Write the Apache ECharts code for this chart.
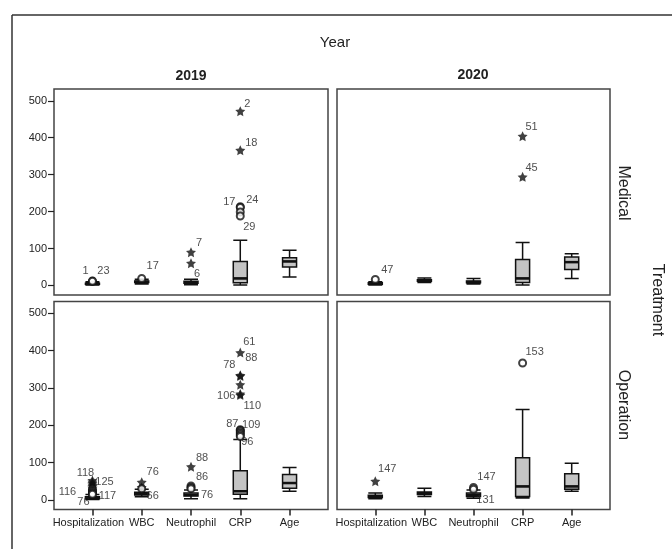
<!DOCTYPE html>
<html>
<head>
<meta charset="utf-8">
<script src="https://cdn.jsdelivr.net/npm/echarts@6/dist/echarts.min.js"></script>
<style>html,body{margin:0;padding:0;background:#fff}#chart{width:672px;height:549px}</style>
</head>
<body>
<div id="chart"></div>
<script>
// ---------- data ----------
const categories = ['Hospitalization', 'WBC', 'Neutrophil', 'CRP', 'Age'];
const yTicks = [0, 100, 200, 300, 400, 500];
const years = ['2019', '2020'];
const treatments = ['Medical', 'Operation'];
const facetTitle = 'Year';
const rowTitle = 'Treatment';

// [min, Q1, median, Q3, max] per category
const boxMedical2019 = [[1, 3, 4, 6, 10], [4, 8, 10, 12, 17], [2, 6, 8, 11, 17], [1, 7, 19, 65, 122], [23, 50, 65, 75, 95]];
const boxMedical2020 = [[1, 3, 5, 7, 10], [8, 11, 13, 15, 20], [4, 7, 9, 12, 19], [1, 8, 19, 70, 116], [19, 43, 63, 77, 86]];
const boxOperation2019 = [[1, 3, 5, 8, 14], [8, 13, 16, 20, 28], [3, 10, 13, 18, 26], [3, 15, 23, 78, 162], [23, 31, 45, 68, 87]];
const boxOperation2020 = [[3, 6, 8, 12, 18], [9, 14, 17, 21, 31], [4, 9, 13, 18, 26], [5, 9, 36, 113, 242], [23, 28, 36, 70, 98]];

// outliers: [category index, value, kind ('o' = outlier, '*' = extreme), case id]
const outMedical2019 = [
  [0, 12, 'o', '1'], [0, 11, 'o', '23'], [1, 19, 'o', '17'],
  [2, 90, '*', '7'], [2, 60, '*', '6'],
  [3, 472, '*', '2'], [3, 366, '*', '18'],
  [3, 213, 'o', '17'], [3, 211, 'o', '24'], [3, 199, 'o', ''], [3, 188, 'o', '29']
];
const outMedical2020 = [
  [0, 16, 'o', '47'],
  [3, 404, '*', '51'], [3, 294, '*', '45']
];
const outOperation2019 = [
  [0, 52, '*', '118'], [0, 48, '*', '125'], [0, 44, '*', ''], [0, 40, '*', ''], [0, 36, '*', ''], [0, 32, '*', ''],
  [0, 28, 'o', ''], [0, 25, 'o', ''], [0, 22, 'o', '116'], [0, 19, 'o', ''], [0, 16, 'o', '76'], [0, 15, 'o', '117'],
  [1, 47, '*', '76'], [1, 33, '*', ''], [1, 30, 'o', '66'],
  [2, 89, '*', '88'], [2, 37, 'o', '86'], [2, 33, 'o', ''], [2, 30, 'o', '76'],
  [3, 395, '*', '61'], [3, 334, '*', '78'], [3, 332, '*', '88'], [3, 309, '*', ''], [3, 284, '*', '106'], [3, 281, '*', '110'],
  [3, 188, 'o', '87'], [3, 186, 'o', '109'], [3, 182, 'o', ''], [3, 178, 'o', ''], [3, 174, 'o', ''], [3, 170, 'o', '96']
];
const outOperation2020 = [
  [0, 50, '*', '147'],
  [2, 33, 'o', '147'], [2, 28, 'o', '131'],
  [3, 367, 'o', '153']
];

// ---------- label placement (style, parallel to the outlier lists) ----------
const offMedical2019 = [[-7, -10], [11, -10], [11, -12], [8, -9], [6, 11], [7, -7], [11, -7], [-11, -5], [12, -8], [0, 0], [9, 11]];
const offMedical2020 = [[12, -10], [9, -9], [9, -9]];
const offOperation2019 = [
  [-7, -7], [12, 0], [0, 0], [0, 0], [0, 0], [0, 0],
  [0, 0], [0, 0], [-25, 0], [0, 0], [-9, 8], [15, 2],
  [11, -10], [0, 0], [11, 7],
  [11, -9], [11, -9], [0, 0], [16, 6],
  [9, -11], [-11, -10], [11, -18], [0, 0], [-14, 2], [12, 11],
  [-8, -6], [11, -6], [0, 0], [0, 0], [0, 0], [7, 6]
];
const offOperation2020 = [[12, -12], [13, -11], [12, 11], [12, -11]];

// ---------- layout ----------
const FONT = "'Liberation Sans', Arial, sans-serif";
const TXT = '#222';
const panels = [
  { box: boxMedical2019, out: outMedical2019, off: offMedical2019, grid: { left: 54, top: 89, width: 274, height: 206 }, yLab: true, xLab: false },
  { box: boxMedical2020, out: outMedical2020, off: offMedical2020, grid: { left: 337, top: 89, width: 273, height: 206 }, yLab: false, xLab: false },
  { box: boxOperation2019, out: outOperation2019, off: offOperation2019, grid: { left: 54, top: 301.5, width: 274, height: 208 }, yLab: true, xLab: true },
  { box: boxOperation2020, out: outOperation2020, off: offOperation2020, grid: { left: 337, top: 301.5, width: 273, height: 208 }, yLab: false, xLab: true }
];
const catIdx = categories.map((c, i) => i);
const STAR = 'path://M0,-10 L2.9,-4 L9.51,-3.09 L4.7,1.5 L5.88,8.09 L0,5 L-5.88,8.09 L-4.7,1.5 L-9.51,-3.09 L-2.9,-4 Z';

const grids = [], xAxes = [], yAxes = [], series = [];
panels.forEach((p, gi) => {
  grids.push(Object.assign({ show: true, borderColor: '#444', borderWidth: 1.5, backgroundColor: 'transparent' }, p.grid));
  xAxes.push({
    type: 'value', gridIndex: gi, min: -0.78, max: 4.78,
    splitLine: { show: false }, axisLine: { show: false, onZero: false },
    axisTick: { show: p.xLab, customValues: catIdx, length: 6, lineStyle: { color: '#222', width: 1.5 } },
    axisLabel: {
      show: p.xLab, customValues: catIdx, margin: 8, fontSize: 11, color: TXT, fontFamily: FONT,
      formatter: v => { const i = Math.round(v); return i === 0 ? '{h|' + categories[i] + '}' : categories[i]; },
      rich: { h: { fontSize: 11, color: TXT, fontFamily: FONT, padding: [0, 8, 0, 0] } }
    }
  });
  yAxes.push({
    type: 'value', gridIndex: gi, min: -26, max: 532,
    splitLine: { show: false }, axisLine: { show: false, onZero: false },
    axisTick: { show: p.yLab, customValues: yTicks, length: 6, lineStyle: { color: '#222', width: 1.2 } },
    axisLabel: { show: p.yLab, customValues: yTicks, margin: 7, fontSize: 11, color: TXT, fontFamily: FONT }
  });
  series.push({
    type: 'boxplot', xAxisIndex: gi, yAxisIndex: gi, layout: 'horizontal',
    boxWidth: [14, 14],
    itemStyle: { color: '#c4c4c4', borderColor: '#111', borderWidth: 1.5 },
    emphasis: { disabled: true },
    data: p.box.map((b, i) => [i].concat(b))
  });
  series.push({
    type: 'custom', xAxisIndex: gi, yAxisIndex: gi, silent: true, z: 5,
    data: p.box.map((b, i) => [i, b[2]]),
    renderItem: (params, api) => {
      const c = api.coord([api.value(0), api.value(1)]);
      return { type: 'line', shape: { x1: c[0] - 7, y1: c[1], x2: c[0] + 7, y2: c[1] }, style: { stroke: '#111', lineWidth: 2.5 } };
    }
  });
  series.push({
    type: 'scatter', xAxisIndex: gi, yAxisIndex: gi, z: 6, silent: true,
    data: p.out.map((o, k) => ({
      value: [o[0], o[1]],
      symbol: o[2] === '*' ? STAR : 'emptyCircle',
      symbolSize: o[2] === '*' ? 10 : 7,
      itemStyle: o[2] === '*' ? { color: '#111', borderWidth: 0 } : { color: '#111', borderColor: '#111', borderWidth: 1.3 },
      label: {
        show: o[3] !== '', formatter: o[3], position: 'inside', offset: p.off[k],
        fontSize: 11, color: TXT, fontFamily: FONT
      }
    }))
  });
});

const chart = echarts.init(document.getElementById('chart'), null, { renderer: 'canvas' });
chart.setOption({
  animation: false,
  backgroundColor: '#fff',
  grid: grids, xAxis: xAxes, yAxis: yAxes, series: series,
  graphic: [
    { type: 'line', shape: { x1: 12, y1: 15, x2: 12, y2: 549 }, style: { stroke: '#333', lineWidth: 1.5 } },
    { type: 'line', shape: { x1: 12, y1: 15, x2: 672, y2: 15 }, style: { stroke: '#333', lineWidth: 1.5 } },
    { type: 'text', x: 335, y: 43, style: { text: facetTitle, font: '15px ' + FONT, fill: TXT, align: 'center', verticalAlign: 'middle' } },
    { type: 'text', x: 191, y: 76, style: { text: years[0], font: 'bold 14px ' + FONT, fill: TXT, align: 'center', verticalAlign: 'middle' } },
    { type: 'text', x: 473, y: 75, style: { text: years[1], font: 'bold 14px ' + FONT, fill: TXT, align: 'center', verticalAlign: 'middle' } },
    { type: 'text', x: 623, y: 193, rotation: -Math.PI / 2, style: { text: treatments[0], font: '16px ' + FONT, fill: TXT, align: 'center', verticalAlign: 'middle' } },
    { type: 'text', x: 623, y: 405, rotation: -Math.PI / 2, style: { text: treatments[1], font: '16px ' + FONT, fill: TXT, align: 'center', verticalAlign: 'middle' } },
    { type: 'text', x: 657, y: 300, rotation: -Math.PI / 2, style: { text: rowTitle, font: '16px ' + FONT, fill: TXT, align: 'center', verticalAlign: 'middle' } }
  ]
});
</script>
</body>
</html>
